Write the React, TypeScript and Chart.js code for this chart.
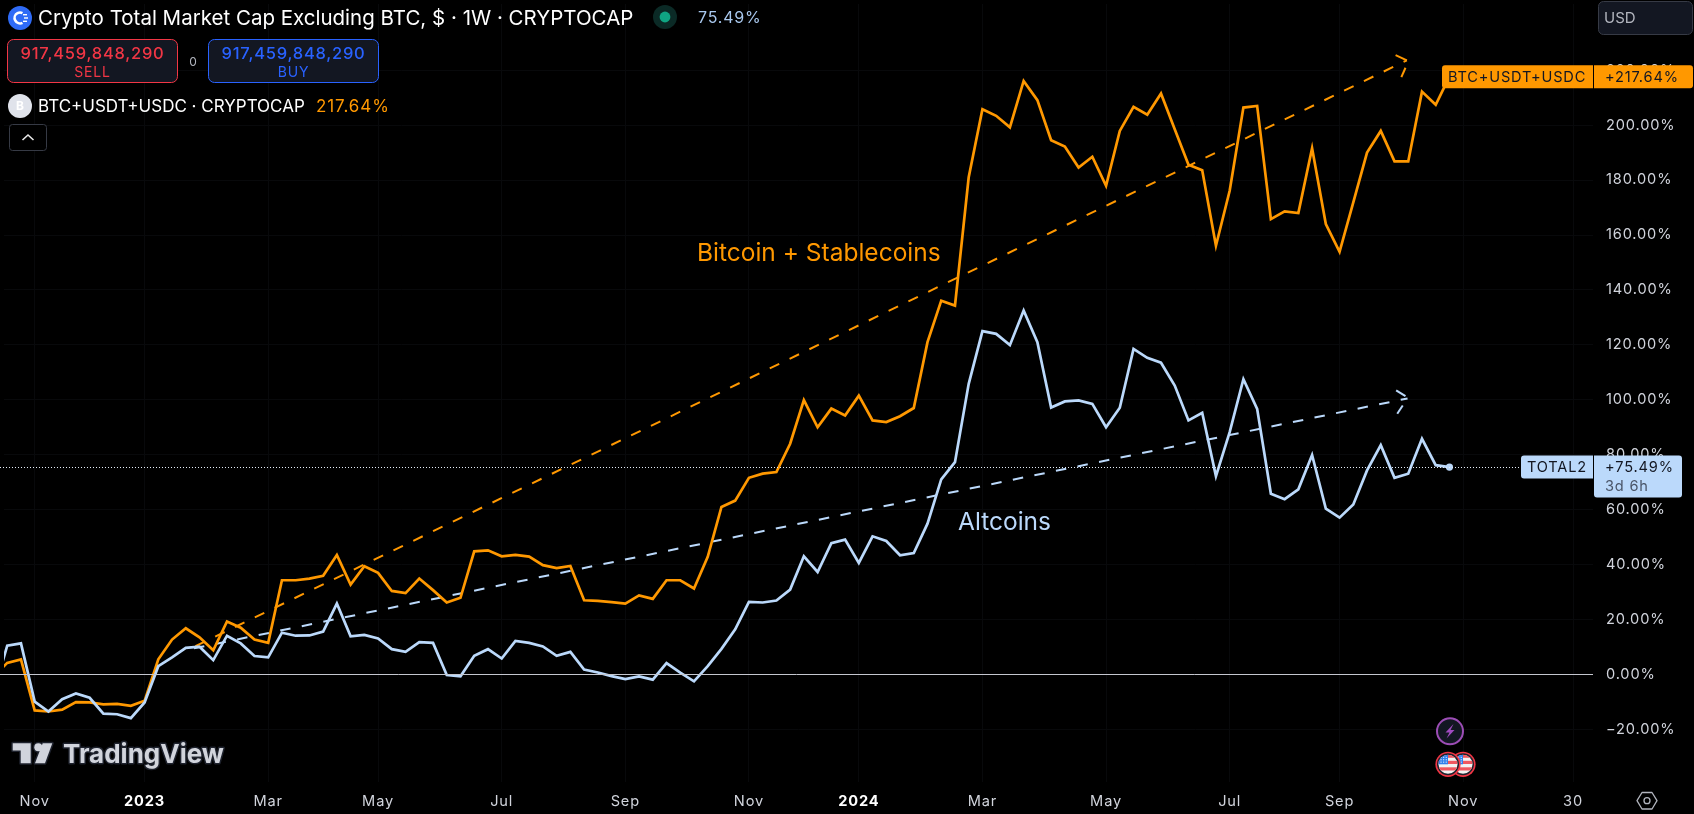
import React, { useEffect, useRef } from "react";
import { Chart, registerables } from "chart.js";

Chart.register(...registerables);

const FONT = "Inter, 'Noto Sans', sans-serif";
const ORANGE = "#FF9800";
const BLUE = "#BBD9FB";

const firstWeek = -2;
const orangeValues = [
  -0.7, 4.2, 5.5, -13.1, -13.5, -12.8, -10.1, -10.2, -10.9, -10.7, -11.4, -9.6, 5.5, 12.7, 16.8, 13.5, 8.8, 19.3, 17,
  12.7, 11.5, 34.3, 34.3, 34.9, 35.9, 43.5, 32.7, 39.4, 37, 30.4, 29.6, 34.9, 30.7, 26.2, 27.9, 44.8, 45.2, 43, 43.5,
  42.9, 39.8, 38.7, 39.5, 27, 26.8, 26.3, 25.8, 28.8, 27.5, 34.3, 34.3, 31.3, 42.8, 61, 63.3, 71.6, 73.1, 73.7, 84,
  99.9, 90, 96.8, 94.3, 101.5, 92.5, 91.9, 94, 97, 121, 136.1, 134.3, 181, 205.8, 203.4, 199.2, 216.1, 209.1, 194.5,
  192.2, 184.6, 188.5, 177.9, 197.9, 206.7, 203.8, 211.5, 198.5, 185.6, 183.6, 156.1, 176.1, 206.4, 207, 165.8, 168.6,
  168, 191.6, 164, 153.9, 171.9, 190, 197.9, 186.8, 186.8, 212.2, 207.4, 217.64,
];
const blueValues = [
  -7, 10.5, 11.3, -9.9, -13.5, -9, -6.9, -8.5, -14.3, -14.5, -15.9, -10.2, 3, 6.2, 9.7, 10.1, 5.2, 14.1, 11.3, 6.7,
  6.2, 15.2, 14.1, 14.2, 15.6, 25.8, 13.9, 14.4, 13.1, 9.2, 8.2, 11.8, 11.5, -0.2, -0.7, 6.8, 9.2, 5.8, 12.2, 11.5,
  10.2, 6.8, 8.2, 1.8, 0.7, -0.6, -1.7, -0.7, -1.9, 4.1, 0.7, -2.5, 3, 9.3, 16.4, 26.4, 26.2, 26.9, 30.9, 43, 37.3,
  47.8, 49.1, 40.6, 50.3, 48.6, 43.4, 44.2, 54.9, 71, 77.3, 105.8, 125, 124, 119.9, 132.5, 121, 97.2, 99.4, 99.8, 98.5,
  90, 97.1, 118.5, 115.3, 113.5, 105.2, 92.5, 95.3, 72.2, 88.2, 107.5, 96.7, 65.8, 63.8, 67.4, 79.9, 60.4, 57.1, 61.9,
  74.3, 83.5, 71.6, 73.1, 85.8, 76.2, 75.49,
];
const orangeTrendWeeks = [12.7, 100.9];
const orangeTrendValues = [10.3, 223.6];
const blueTrendWeeks = [12.6, 100.95];
const blueTrendValues = [9.5, 100.5];
const orangeBarbA = [{ x: 100.08, y: 225.5 }, { x: 100.9, y: 223.6 }];
const orangeBarbB = [{ x: 100.8, y: 220.9 }, { x: 100.5, y: 217.5 }];
const blueBarbA = [{ x: 100.12, y: 103.4 }, { x: 100.8, y: 101.3 }];
const blueBarbB = [{ x: 100.6, y: 97.9 }, { x: 100.2, y: 94.9 }];

const xTickWeeks = [1, 9, 18, 26, 35, 44, 53, 61, 70, 79, 88, 96, 105, 113];
const xTickLabels = ["Nov", "2023", "Mar", "May", "Jul", "Sep", "Nov", "2024", "Mar", "May", "Jul", "Sep", "Nov", "30"];
const yearLabels = ["2023", "2024"];
const yTicks = [-20, 0, 20, 40, 60, 80, 100, 120, 140, 160, 180, 200, 220];

const toPoints = (vals: number[]) => vals.map((y, k) => ({ x: firstWeek + k, y }));
const toPairs = (xs: number[], ys: number[]) => xs.map((x, k) => ({ x, y: ys[k] }));
const isYearTick = (ctx: any) => yearLabels.includes(xTickLabels[xTickWeeks.indexOf(ctx?.tick?.value)]);

function rr(c: any, x: number, y: number, w: number, h: number, r: any, fill?: string, stroke?: string, lw = 1) {
  c.beginPath();
  c.roundRect(x, y, w, h, r);
  if (fill) { c.fillStyle = fill; c.fill(); }
  if (stroke) { c.strokeStyle = stroke; c.lineWidth = lw; c.stroke(); }
}
function txt(c: any, s: string, x: number, y: number, font: string, color: string, align: any = "left", spacing = 0) {
  c.font = font;
  c.letterSpacing = `${spacing}px`;
  c.fillStyle = color;
  c.textAlign = align;
  c.textBaseline = "middle";
  c.fillText(s, x, y);
  c.letterSpacing = "0px";
}
function flag(c: any, x: number, y: number) {
  c.save();
  c.beginPath(); c.arc(x, y, 12.6, 0, Math.PI * 2); c.fillStyle = "#F23645"; c.fill();
  c.beginPath(); c.arc(x, y, 11, 0, Math.PI * 2); c.fillStyle = "#1e222d"; c.fill();
  c.beginPath(); c.arc(x, y, 9.5, 0, Math.PI * 2); c.clip();
  c.fillStyle = "#F2F2F2"; c.fillRect(x - 10, y - 10, 20, 20);
  c.fillStyle = "#F0575F";
  c.fillRect(x - 10, y - 3.5, 20, 3.2);
  c.fillRect(x - 10, y + 3, 20, 3.2);
  c.fillStyle = "#F0575F"; c.fillRect(x, y - 9.5, 10, 3);
  c.fillStyle = "#2F80ED"; c.fillRect(x - 10, y - 10, 10, 10);
  c.fillStyle = "#E8F1FC";
  for (let a = 0; a < 3; a++) for (let b = 0; b < 3; b++) c.fillRect(x - 7.5 + a * 2.6, y - 7.5 + b * 2.4, 1.1, 1.1);
  c.restore();
}

const overlay = {
  id: "overlay",
  beforeDraw(chart: any) {
    chart.ctx.letterSpacing = "0.85px";
  },
  afterDatasetsDraw(chart: any) {
    const c = chart.ctx;
    const y = chart.scales.y;
    const area = chart.chartArea;
    c.save();
    // reference lines
    const zeroY = Math.round(y.getPixelForValue(0)) + 0.5;
    c.strokeStyle = "#C4C6CE"; c.lineWidth = 1;
    c.beginPath(); c.moveTo(0, zeroY); c.lineTo(area.right, zeroY); c.stroke();
    const lastBlue = blueValues[blueValues.length - 1];
    const lastY = y.getPixelForValue(lastBlue);
    c.setLineDash([1, 2]); c.strokeStyle = "#E6EEF8";
    c.beginPath(); c.moveTo(0, Math.round(lastY) + 0.5); c.lineTo(area.right, Math.round(lastY) + 0.5); c.stroke();
    c.setLineDash([]);
    c.restore();
  },
  afterDraw(chart: any) {
    const c = chart.ctx;
    const y = chart.scales.y;
    const lastBlue = blueValues[blueValues.length - 1];
    const lastOrange = orangeValues[orangeValues.length - 1];
    const f = (n: number, w = 400) => `${w} ${n}px ${FONT}`;
    c.save();
    c.letterSpacing = "0px";

    // annotations
    txt(c, "Bitcoin + Stablecoins", 697, 254, f(24.5), ORANGE);
    txt(c, "Altcoins", 958, 522.5, f(24.5), BLUE);

    // price tags
    const oy = y.getPixelForValue(lastOrange);
    rr(c, 1442, oy - 11.5, 151, 23, [3, 0, 0, 3], ORANGE);
    rr(c, 1594, oy - 11.5, 99, 23, [0, 3, 3, 0], ORANGE);
    txt(c, "BTC+USDT+USDC", 1448, oy + 0.5, f(14.6), "#131722", "left", 0.8);
    txt(c, "+217.64%", 1605, oy + 0.5, f(14.6), "#131722", "left", 0.85);
    const by = y.getPixelForValue(lastBlue);
    rr(c, 1521, by - 11.5, 72, 23, [3, 0, 0, 3], BLUE);
    rr(c, 1594, by - 11.5, 88, 42, [0, 3, 3, 3], BLUE);
    txt(c, "TOTAL2", 1527, by + 0.5, f(14.6), "#131722", "left", 0.8);
    txt(c, "+75.49%", 1605, by + 0.5, f(14.6), "#131722", "left", 0.85);
    txt(c, "3d 6h", 1605, by + 19.5, f(14.6), "#4A5568", "left", 0.8);

    // header
    c.beginPath(); c.arc(20, 18, 12, 0, Math.PI * 2); c.fillStyle = "#2F6BF6"; c.fill();
    c.strokeStyle = "#FFFFFF"; c.lineWidth = 2.6;
    c.beginPath(); c.arc(20, 18, 5.4, Math.PI * 0.35, Math.PI * 1.65); c.stroke();
    c.fillStyle = "#FFFFFF";
    c.fillRect(23, 14, 4, 1.4); c.fillRect(24, 17.3, 4, 1.4); c.fillRect(23, 20.6, 4, 1.4);
    txt(c, "Crypto Total Market Cap Excluding BTC, $ \u00b7 1W \u00b7 CRYPTOCAP", 38, 18.5, f(20.5), "#FFFFFF");
    c.beginPath(); c.arc(665, 17, 12, 0, Math.PI * 2); c.fillStyle = "#0B2A26"; c.fill();
    c.beginPath(); c.arc(665, 17, 5.4, 0, Math.PI * 2); c.fillStyle = "#0FA583"; c.fill();
    txt(c, "75.49%", 698, 18, f(16), "#A9C8EE", "left", 0.8);

    rr(c, 7.5, 39.5, 170, 43, 6, "#131722", "#F23645");
    txt(c, "917,459,848,290", 92.5, 54, f(16.5, 500), "#F23645", "center", 0.75);
    txt(c, "SELL", 92.5, 73, f(14), "#F23645", "center", 0.8);
    txt(c, "0", 193, 62, f(12), "#B2B5BE", "center");
    rr(c, 208.5, 39.5, 170, 43, 6, "#131722", "#2962FF");
    txt(c, "917,459,848,290", 293.5, 54, f(16.5, 500), "#2962FF", "center", 0.75);
    txt(c, "BUY", 293.5, 73, f(14), "#2962FF", "center", 0.8);

    c.beginPath(); c.arc(20, 106, 12, 0, Math.PI * 2); c.fillStyle = "#E0E3EB"; c.fill();
    txt(c, "B", 20, 106.5, f(12, 700), "#FFFFFF", "center");
    txt(c, "BTC+USDT+USDC \u00b7 CRYPTOCAP", 38, 107, f(17), "#FFFFFF");
    txt(c, "217.64%", 316, 107, f(17), ORANGE, "left", 0.9);
    rr(c, 9.5, 124.5, 37, 26, 3, "#000000", "#363A45");
    c.strokeStyle = "#E8E8E8"; c.lineWidth = 1.6;
    c.beginPath(); c.moveTo(22.5, 140); c.lineTo(28, 135); c.lineTo(33.5, 140); c.stroke();

    // currency box
    rr(c, 1598.5, 1.5, 94, 33, 5, "#131722", "#363A45");
    txt(c, "USD", 1604, 18, f(15), "#B2B5BE");

    // watermark logo
    c.lineJoin = "round"; c.lineWidth = 3; c.strokeStyle = "#1E222D";
    const tv = new Path2D("M12.7 743.3H30.7V763.3H20.7V750.5H12.7Z");
    const tvSlant = new Path2D("M42.7 743.3H52.3L45 763.3H35Z");
    c.stroke(tv); c.stroke(tvSlant);
    c.beginPath(); c.arc(38.3, 747.3, 4, 0, Math.PI * 2); c.stroke();
    c.fillStyle = "#D1D4DC";
    c.fill(tv); c.fill(tvSlant);
    c.beginPath(); c.arc(38.3, 747.3, 4, 0, Math.PI * 2); c.fill();
    c.font = f(26, 700); c.textAlign = "left"; c.textBaseline = "alphabetic";
    c.strokeText("TradingView", 63, 763);
    c.fillText("TradingView", 63, 763);

    // event markers
    c.beginPath(); c.arc(1450, 731.3, 13, 0, Math.PI * 2); c.fillStyle = "#131722"; c.fill();
    c.strokeStyle = "#9C4DB5"; c.lineWidth = 2; c.stroke();
    c.fillStyle = "#A04BC0";
    c.beginPath();
    c.moveTo(1453.5, 724); c.lineTo(1445.5, 732.5); c.lineTo(1449.5, 732.5); c.lineTo(1446.5, 738.5);
    c.lineTo(1454.5, 730); c.lineTo(1450.5, 730); c.closePath(); c.fill();
    flag(c, 1463, 764.3);
    flag(c, 1448, 764.3);

    // settings icon
    c.strokeStyle = "#B2B5BE"; c.lineWidth = 1.3;
    c.beginPath();
    [[1637, 800.7], [1642, 792.5], [1652, 792.5], [1657, 800.7], [1652, 809], [1642, 809]].forEach(([a, b], k) =>
      k ? c.lineTo(a, b) : c.moveTo(a, b));
    c.closePath(); c.stroke();
    c.beginPath(); c.arc(1647, 800.7, 3, 0, Math.PI * 2); c.stroke();
    c.restore();
  },
};

export default function App() {
  const ref = useRef<HTMLCanvasElement>(null);
  useEffect(() => {
    const line = (data: any[], color: string, width: number, dash: number[] = [], order = 5) => ({
      data, borderColor: color, borderWidth: width, borderDash: dash, pointRadius: 0,
      tension: 0, order, borderJoinStyle: "miter" as const, borderCapStyle: "butt" as const,
    });
    const bluePts = toPoints(blueValues);
    const noPad = (s: any) => { s.paddingTop = 0; s.paddingBottom = 0; s.paddingLeft = 0; s.paddingRight = 0; };
    const chart = new Chart(ref.current!, {
      type: "line",
      data: {
        datasets: [
          {
            ...line(bluePts, BLUE, 2.7, [], 1),
            pointRadius: (ctx: any) => (ctx.dataIndex === bluePts.length - 1 ? 3.6 : 0),
            pointBackgroundColor: BLUE,
            pointBorderWidth: 0,
          },
          line(toPoints(orangeValues), ORANGE, 2.7, [], 2),
          line(toPairs(orangeTrendWeeks, orangeTrendValues), ORANGE, 2, [10.5, 11.5], 3),
          line(toPairs(blueTrendWeeks, blueTrendValues), BLUE, 2, [10.5, 11.5], 3),
          line(orangeBarbA, ORANGE, 2, [], 3),
          line(orangeBarbB, ORANGE, 2, [], 3),
          line(blueBarbA, BLUE, 2, [], 3),
          line(blueBarbB, BLUE, 2, [], 3),
        ] as any,
      },
      plugins: [overlay as any],
      options: {
        responsive: false,
        animation: false,
        devicePixelRatio: 1,
        layout: { padding: 0 },
        plugins: { legend: { display: false }, tooltip: { enabled: false } },
        scales: {
          x: {
            type: "linear",
            min: -17 / 13.77,
            max: (1593 - 17) / 13.77,
            afterBuildTicks: (s: any) => { s.ticks = xTickWeeks.map((value) => ({ value })); },
            afterFit: (s: any) => { s.height = 32; noPad(s); },
            border: { display: false },
            grid: { color: "#08090B", drawTicks: false },
            ticks: {
              autoSkip: false, maxRotation: 0, padding: 11,
              color: (ctx: any) => (isYearTick(ctx) ? "#FFFFFF" : "#D1D4DC"),
              font: (ctx: any) => ({ family: FONT, size: 14.6, weight: isYearTick(ctx) ? 700 : 400 }),
              callback: (v: any) => xTickLabels[xTickWeeks.indexOf(v)],
            },
          },
          y: {
            type: "linear",
            position: "right",
            min: (674.3 - 782) / 2.75,
            max: (674.3 - 3) / 2.75,
            afterBuildTicks: (s: any) => { s.ticks = yTicks.map((value) => ({ value })); },
            afterFit: (s: any) => { s.width = 101; noPad(s); },
            border: { display: false },
            grid: { color: "#08090B", drawTicks: false },
            ticks: {
              autoSkip: false, padding: 13, crossAlign: "near", color: "#D1D4DC",
              font: { family: FONT, size: 14.6 },
              callback: (v: any) => (v < 0 ? "\u2212" + Math.abs(v).toFixed(2) : Number(v).toFixed(2)) + "%",
            },
          },
        },
      },
    } as any);
    return () => chart.destroy();
  }, []);
  return (
    <div style={{ position: "fixed", inset: 0, background: "#000" }}>
      <canvas ref={ref} width={1694} height={814} style={{ display: "block", width: 1694, height: 814 }} />
    </div>
  );
}
